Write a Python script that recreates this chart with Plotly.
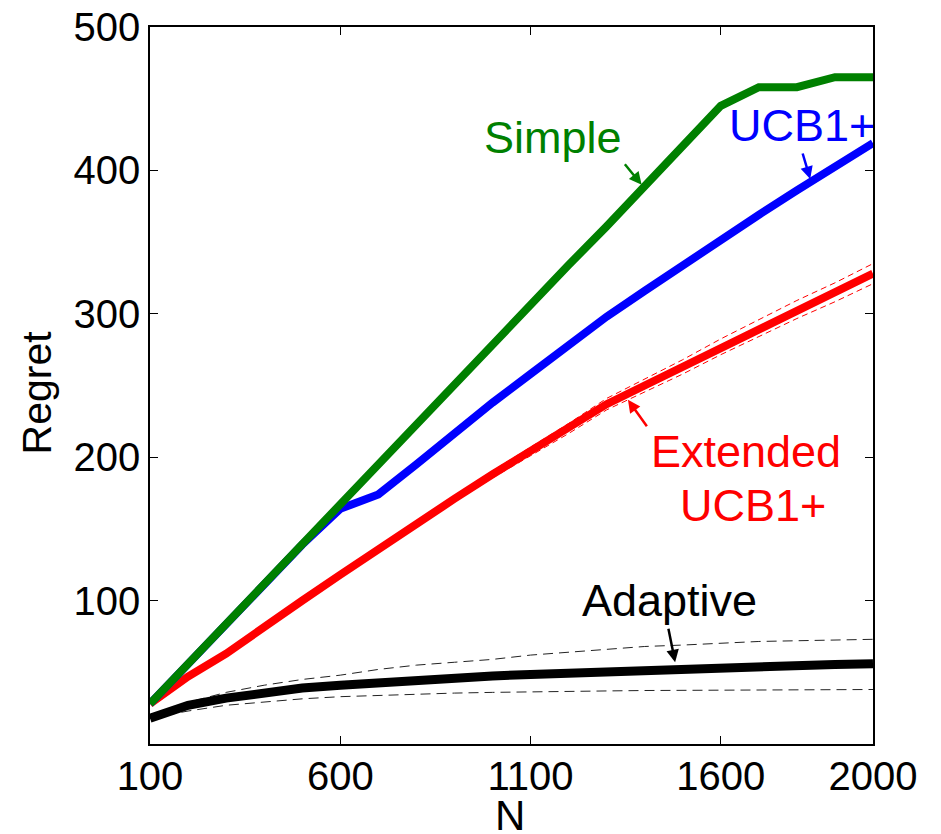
import plotly.graph_objects as go

N = [100, 200, 300, 400, 500, 600, 700, 800, 900, 1000,
     1100, 1200, 1300, 1400, 1500, 1600, 1700, 1800, 1900, 2000]

simple = [28, 56, 84, 111, 139, 167, 195, 223, 250, 278,
          306, 334, 361, 389, 417, 445, 458, 458, 465, 465]
ucb1 = [28, 56, 84, 111, 139, 164, 174, 195, 217, 238,
        258, 278, 298, 316, 334, 352, 369, 386, 403, 419]
ext_ucb1 = [28, 47, 63, 82, 100, 118, 136, 153, 171, 188,
            204, 220, 237, 250, 263, 277, 290, 303, 315, 328]
ext_spread = [0, 0.5, 1, 1.2, 1.4, 1.6, 1.8, 2, 2.2, 2.5,
              3, 3.5, 4, 4.5, 5, 5.5, 6, 6.3, 6.6, 7]
adaptive = [18, 27, 32, 36, 39, 41, 43, 45, 46, 47.5,
            48.5, 49.5, 51, 52, 53, 54, 54.5, 55, 55.5, 56]
adaptive_hi = [18, 29, 36, 41, 45, 48, 52, 55, 57, 59,
               62, 64, 66, 68, 69, 70.5, 71.5, 72, 72.5, 73]
adaptive_lo = [18, 23, 27, 29.5, 31.5, 33, 34, 35, 35.5, 36,
               36.5, 37, 37, 37.3, 37.5, 37.6, 37.7, 37.8, 38, 38]

x_ticks = [100, 600, 1100, 1600, 2000]
y_ticks = [100, 200, 300, 400, 500]
x_title = "N"
y_title = "Regret"

GREEN = "#008000"
BLUE = "#0000FF"
RED = "#FF0000"
BLACK = "#000000"
FONT = "Liberation Sans, Arial, Helvetica, sans-serif"

ext_hi = [v + d for v, d in zip(ext_ucb1, ext_spread)]
ext_lo = [v - d for v, d in zip(ext_ucb1, ext_spread)]

fig = go.Figure()
fig.add_trace(go.Scatter(x=N, y=adaptive_hi, mode="lines",
                         line=dict(color="#222222", width=1, dash="10px,6px")))
fig.add_trace(go.Scatter(x=N, y=adaptive_lo, mode="lines",
                         line=dict(color="#222222", width=1, dash="10px,6px")))
fig.add_trace(go.Scatter(x=N, y=adaptive, mode="lines",
                         line=dict(color=BLACK, width=9)))
fig.add_trace(go.Scatter(x=N, y=ext_ucb1, mode="lines",
                         line=dict(color=RED, width=8)))
fig.add_trace(go.Scatter(x=N, y=ext_hi, mode="lines",
                         line=dict(color=RED, width=1, dash="6px,4px")))
fig.add_trace(go.Scatter(x=N, y=ext_lo, mode="lines",
                         line=dict(color=RED, width=1, dash="6px,4px")))
fig.add_trace(go.Scatter(x=N, y=ucb1, mode="lines",
                         line=dict(color=BLUE, width=8)))
fig.add_trace(go.Scatter(x=N, y=simple, mode="lines",
                         line=dict(color=GREEN, width=8)))

ann_font = 45
annotations = [
    dict(x=1159, y=423, text="Simple", showarrow=False,
         font=dict(color=GREEN, size=ann_font, family=FONT)),
    dict(x=1813, y=431, text="UCB1+", showarrow=False,
         font=dict(color=BLUE, size=ann_font, family=FONT)),
    dict(x=1666, y=204, text="Extended", showarrow=False,
         font=dict(color=RED, size=ann_font, family=FONT)),
    dict(x=1685, y=166, text="UCB1+", showarrow=False,
         font=dict(color=RED, size=ann_font, family=FONT)),
    dict(x=1464, y=100, text="Adaptive", showarrow=False,
         font=dict(color=BLACK, size=ann_font, family=FONT)),
    # arrows
    dict(x=1392, y=390, text="", showarrow=True, ax=-18, ay=-22,
         arrowhead=2, arrowsize=1, arrowwidth=2.5, arrowcolor=GREEN),
    dict(x=1835, y=394, text="", showarrow=True, ax=-8, ay=-27,
         arrowhead=2, arrowsize=1, arrowwidth=2.5, arrowcolor=BLUE),
    dict(x=1356, y=240, text="", showarrow=True, ax=20, ay=28,
         arrowhead=2, arrowsize=1, arrowwidth=2.5, arrowcolor=RED),
    dict(x=1480, y=57, text="", showarrow=True, ax=-7, ay=-35,
         arrowhead=2, arrowsize=1, arrowwidth=2.5, arrowcolor=BLACK),
    # axis titles
    dict(x=0.498, y=-0.064, xref="paper", yref="paper", text=x_title,
         showarrow=False, xanchor="center", yanchor="top",
         font=dict(size=42, family=FONT, color=BLACK)),
    dict(x=-0.157, y=0.491, xref="paper", yref="paper", text=y_title,
         showarrow=False, xanchor="center", yanchor="middle", textangle=-90,
         font=dict(size=41, family=FONT, color=BLACK)),
]

fig.update_layout(
    width=941, height=834,
    margin=dict(l=150, r=68, t=27, b=90, autoexpand=False),
    paper_bgcolor="white", plot_bgcolor="white",
    showlegend=False,
    font=dict(family=FONT, color="black", size=40),
    annotations=annotations,
)
fig.update_xaxes(
    range=[100, 2000], tickvals=x_ticks, ticktext=[str(t) for t in x_ticks],
    showgrid=False, zeroline=False, automargin=False,
    showline=True, linecolor="black", linewidth=1.5, mirror="ticks",
    ticks="inside", ticklen=8, tickwidth=1, tickcolor="black",
    tickfont=dict(size=40, family=FONT), ticklabelstandoff=-4,
)
fig.update_yaxes(
    range=[0, 500], tickvals=y_ticks, ticktext=[str(t) for t in y_ticks],
    showgrid=False, zeroline=False, automargin=False,
    showline=True, linecolor="black", linewidth=1.5, mirror="ticks",
    ticks="inside", ticklen=8, tickwidth=1, tickcolor="black",
    tickfont=dict(size=40, family=FONT), ticklabelstandoff=0,
)

fig.write_html("out.html", config={"displayModeBar": False},
               post_script="document.body.style.margin='0';")
